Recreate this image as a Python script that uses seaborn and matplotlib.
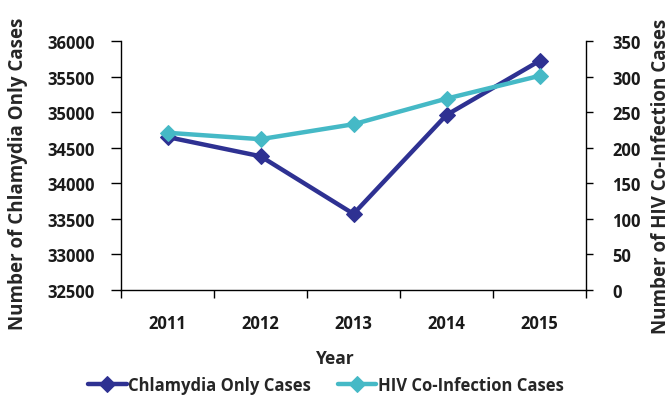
import matplotlib
matplotlib.use("Agg")
import matplotlib.pyplot as plt
import seaborn as sns
from matplotlib.ticker import FixedLocator

# values
years = ["2011", "2012", "2013", "2014", "2015"]
chlamydia_only = [34650, 34380, 33570, 34960, 35720]
hiv_coinfection = [221, 212, 233, 269, 301]

dark_blue = "#2E3192"
cyan = "#45B9C6"

sns.set_theme(style="white")
plt.rcParams["font.family"] = ["Open Sans", "DejaVu Sans"]
plt.rcParams["font.weight"] = "bold"

fig = plt.figure(figsize=(6.72, 4.02), dpi=100)
ax = fig.add_axes([121 / 672, 1 - 291 / 402, 465 / 672, 249 / 402])
ax2 = ax.twinx()

sns.lineplot(x=years, y=chlamydia_only, ax=ax, color=dark_blue, marker="D",
             markersize=8, markeredgecolor=dark_blue, linewidth=3.2,
             label="Chlamydia Only Cases", legend=False)
sns.lineplot(x=years, y=hiv_coinfection, ax=ax2, color=cyan, marker="D",
             markersize=8, markeredgecolor=cyan, linewidth=3.2,
             label="HIV Co-Infection Cases", legend=False)

ax.set_xlim(-0.5, len(years) - 0.5)
ax.set_ylim(32500, 36000)
ax2.set_ylim(0, 350)
ax.set_yticks(range(32500, 36001, 500))
ax2.set_yticks(range(0, 351, 50))

# category labels at centres, tick marks at the boundaries
ax.xaxis.set_minor_locator(FixedLocator([i - 0.5 for i in range(len(years) + 1)]))
ax.tick_params(axis="x", which="major", length=0, pad=17, labelsize=12)
ax.tick_params(axis="x", which="minor", length=6, width=1, color="black", direction="out", bottom=True)
ax.tick_params(axis="y", length=7, width=1, color="black", direction="out", left=True, pad=12, labelsize=12)
ax2.tick_params(axis="y", length=5, width=1, color="black", direction="out", right=True, pad=14, labelsize=12)

for a in (ax, ax2):
    a.spines["top"].set_visible(False)
    for side in ["left", "bottom", "right"]:
        a.spines[side].set_color("black")
        a.spines[side].set_linewidth(1)
    for lbl in a.get_xticklabels() + a.get_yticklabels():
        lbl.set_fontweight("bold")
        lbl.set_color("#1a1a1a")
ax.spines["right"].set_visible(False)
ax2.spines["left"].set_visible(False)
ax2.spines["bottom"].set_visible(False)

ax.set_xlabel("Year", fontsize=12.5, fontweight="bold")
ax.xaxis.set_label_coords(0.46, -0.235)
ax.set_ylabel("Number of Chlamydia Only Cases", fontsize=13.5, fontweight="bold")
ax.yaxis.set_label_coords(-0.2, 0.47)
ax2.set_ylabel("Number of HIV Co-Infection Cases", fontsize=13.5, fontweight="bold")
ax2.yaxis.set_label_coords(1.14, 0.462)

handles = ax.get_lines()[:1] + ax2.get_lines()[:1]
fig.legend(handles, ["Chlamydia Only Cases", "HIV Co-Infection Cases"],
           loc="center", bbox_to_anchor=(0.485, 0.04), ncol=2, frameon=False,
           handlelength=2.3, columnspacing=1.6, handletextpad=0.1,
           prop={"size": 12, "weight": "bold"})

fig.savefig("out.png", dpi=100)
